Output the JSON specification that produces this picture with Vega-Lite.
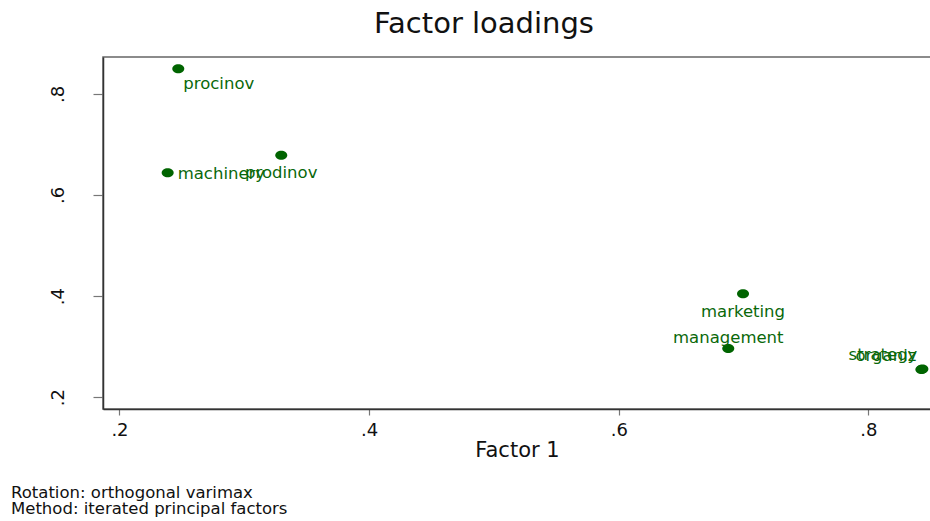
{
  "$schema": "https://vega.github.io/schema/vega-lite/v6.json",
  "padding": {"left": 0, "top": 10, "right": 0, "bottom": 0},
  "background": "white",
  "title": {
    "text": "Factor loadings",
    "font": "DejaVu Sans",
    "fontSize": 29,
    "fontWeight": "normal",
    "color": "#111111",
    "anchor": "middle",
    "frame": "bounds",
    "dx": 18,
    "offset": 17
  },
  "datasets": {
    "loadings": [
      {"name": "procinov", "factor1": 0.2471, "factor2": 0.8494},
      {"name": "machinery", "factor1": 0.2386, "factor2": 0.6438},
      {"name": "prodinov", "factor1": 0.3296, "factor2": 0.6786},
      {"name": "marketing", "factor1": 0.6995, "factor2": 0.4045},
      {"name": "management", "factor1": 0.6877, "factor2": 0.2962},
      {"name": "strategy", "factor1": 0.8432, "factor2": 0.2558},
      {"name": "organiz", "factor1": 0.8424, "factor2": 0.2546}
    ]
  },
  "vconcat": [
    {
      "width": 828,
      "height": 352,
      "title": {
        "text": ["Rotation: orthogonal varimax", "Method: iterated principal factors"],
        "orient": "bottom",
        "anchor": "start",
        "frame": "bounds",
        "font": "DejaVu Sans",
        "fontSize": 16.5,
        "fontWeight": "normal",
        "color": "#111111",
        "lineHeight": 15.5,
        "dx": 10,
        "offset": 25
      },
      "data": {"name": "loadings"},
      "encoding": {
        "x": {
          "field": "factor1",
          "type": "quantitative",
          "scale": {"domain": [0.1868, 0.8501], "nice": false, "zero": false},
          "axis": {
            "values": [0.2, 0.4, 0.6, 0.8],
            "labelExpr": "'.' + round(datum.value * 10)",
            "title": "Factor 1",
            "tickSize": 6,
            "labelPadding": 6,
            "titlePadding": 0
          }
        },
        "y": {
          "field": "factor2",
          "type": "quantitative",
          "scale": {"domain": [0.1767, 0.8728], "nice": false, "zero": false},
          "axis": {
            "values": [0.2, 0.4, 0.6, 0.8],
            "labelExpr": "'.' + round(datum.value * 10)",
            "title": null,
            "labelAngle": -90,
            "labelAlign": "center",
            "labelBaseline": "alphabetic",
            "tickSize": 10,
            "labelPadding": 30,
            "minExtent": 102,
            "maxExtent": 102
          }
        }
      },
      "layer": [
        {
          "mark": {
            "type": "point",
            "filled": true,
            "opacity": 1,
            "shape": "M-1,0A1,0.75 0 1,0 1,0A1,0.75 0 1,0 -1,0Z",
            "size": 144,
            "color": "#006400"
          }
        },
        {
          "transform": [{"filter": {"field": "name", "oneOf": ["machinery"]}}],
          "mark": {"type": "text", "align": "left", "baseline": "middle", "dx": 10, "dy": 1},
          "encoding": {"text": {"field": "name"}}
        },
        {
          "transform": [{"filter": {"field": "name", "oneOf": ["procinov"]}}],
          "mark": {"type": "text", "align": "left", "baseline": "alphabetic", "dx": 5, "dy": 20},
          "encoding": {"text": {"field": "name"}}
        },
        {
          "transform": [{"filter": {"field": "name", "oneOf": ["prodinov", "marketing"]}}],
          "mark": {"type": "text", "align": "center", "baseline": "alphabetic", "dy": 23},
          "encoding": {"text": {"field": "name"}}
        },
        {
          "transform": [{"filter": {"field": "name", "oneOf": ["management"]}}],
          "mark": {"type": "text", "align": "center", "baseline": "alphabetic", "dy": -6},
          "encoding": {"text": {"field": "name"}}
        },
        {
          "transform": [{"filter": {"field": "name", "oneOf": ["strategy", "organiz"]}}],
          "mark": {"type": "text", "align": "right", "baseline": "alphabetic", "dx": -5, "dy": -9},
          "encoding": {"text": {"field": "name"}}
        }
      ]
    }
  ],
  "config": {
    "font": "DejaVu Sans",
    "view": {"stroke": "#666666", "strokeWidth": 1.5},
    "text": {"font": "DejaVu Sans", "fontSize": 16.5, "color": "#0a680a"},
    "axis": {
      "grid": false,
      "domainColor": "#333333",
      "domainWidth": 1.5,
      "tickColor": "#777777",
      "tickWidth": 1.2,
      "labelFont": "DejaVu Sans",
      "labelFontSize": 18,
      "labelColor": "#111111",
      "labelFlush": false,
      "labelOverlap": false,
      "titleFont": "DejaVu Sans",
      "titleFontSize": 21,
      "titleFontWeight": "normal",
      "titleColor": "#111111"
    }
  }
}
